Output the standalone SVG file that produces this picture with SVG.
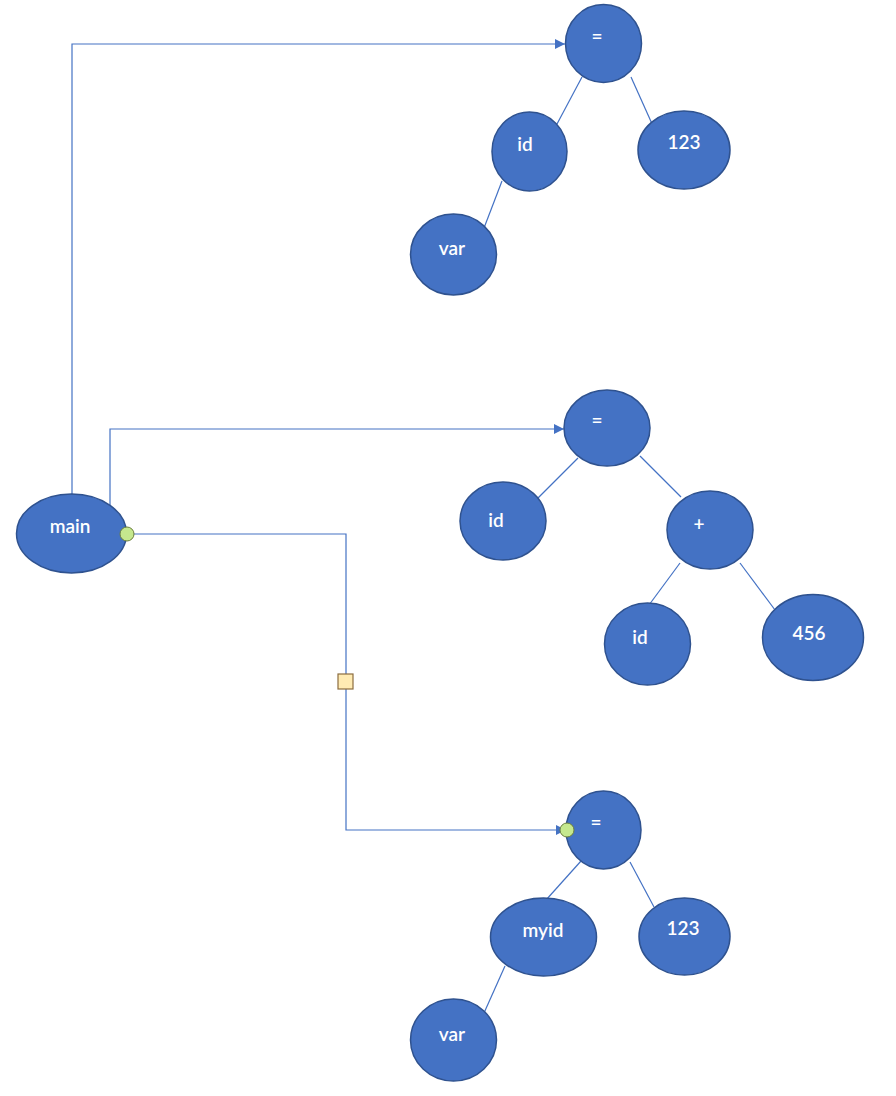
<svg xmlns="http://www.w3.org/2000/svg" width="896" height="1096" viewBox="0 0 896 1096">
<style>
.n ellipse{fill:#4472C4;stroke:#2F528F;stroke-width:1.5}
.n text{fill:#fff;font-family:Lato,"Open Sans","Liberation Sans",sans-serif;font-size:19px;font-weight:600;text-anchor:middle}
.c{fill:none;stroke:#4472C4;stroke-width:1.2}
</style>
<defs>
<marker id="arr" viewBox="0 0 10 10" refX="10" refY="5" markerWidth="10" markerHeight="10" markerUnits="userSpaceOnUse" orient="auto">
<path d="M0,0 L10,5 L0,10 z" fill="#4472C4"/>
</marker>
</defs>
<g id="connectors">
<polyline class="c" points="72,494 72,44 565,44" marker-end="url(#arr)"/>
<polyline class="c" points="110,506 110,429 564,429" marker-end="url(#arr)"/>
<polyline class="c" points="127,534 346,534 346,830 566,830" marker-end="url(#arr)"/>
<line class="c" x1="582" y1="77" x2="557" y2="124"/>
<line class="c" x1="631" y1="77" x2="653" y2="126"/>
<line class="c" x1="502" y1="181" x2="484" y2="228"/>
<line class="c" x1="578" y1="458" x2="534" y2="502"/>
<line class="c" x1="640" y1="456" x2="681" y2="497"/>
<line class="c" x1="680" y1="563" x2="649" y2="605"/>
<line class="c" x1="740" y1="563" x2="778" y2="614"/>
<line class="c" x1="581" y1="861" x2="546" y2="900"/>
<line class="c" x1="630" y1="862" x2="654" y2="907"/>
<line class="c" x1="505" y1="966" x2="484" y2="1013"/>
</g>
<g id="n_main" class="n"><ellipse cx="71.5" cy="533.5" rx="55" ry="39.5"/><text x="70" y="533">main</text></g>
<g id="n_eq1" class="n"><ellipse cx="603.5" cy="43.5" rx="38" ry="39"/><text x="597" y="43">=</text></g>
<g id="n_id1" class="n"><ellipse cx="529.5" cy="151.5" rx="37.5" ry="39.5"/><text x="525" y="151">id</text></g>
<g id="n_123a" class="n"><ellipse cx="684" cy="150" rx="46" ry="39"/><text x="684" y="149">123</text></g>
<g id="n_var1" class="n"><ellipse cx="453.5" cy="254.5" rx="43" ry="40.5"/><text x="452" y="255">var</text></g>
<g id="n_eq2" class="n"><ellipse cx="607" cy="428" rx="43" ry="38"/><text x="597" y="427">=</text></g>
<g id="n_id2" class="n"><ellipse cx="503" cy="521" rx="43" ry="39"/><text x="496" y="527">id</text></g>
<g id="n_plus" class="n"><ellipse cx="710" cy="530" rx="43" ry="39"/><text x="699" y="531">+</text></g>
<g id="n_id3" class="n"><ellipse cx="647.5" cy="644" rx="43" ry="41"/><text x="640" y="644">id</text></g>
<g id="n_456" class="n"><ellipse cx="813" cy="637.5" rx="50.5" ry="43"/><text x="809" y="640">456</text></g>
<g id="n_eq3" class="n"><ellipse cx="603.5" cy="830" rx="37.5" ry="39"/><text x="596" y="829">=</text></g>
<g id="n_myid" class="n"><ellipse cx="543.5" cy="937" rx="53" ry="39"/><text x="543" y="937">myid</text></g>
<g id="n_123b" class="n"><ellipse cx="684.5" cy="936.5" rx="45.5" ry="38.5"/><text x="683" y="935">123</text></g>
<g id="n_var2" class="n"><ellipse cx="453.5" cy="1040" rx="43" ry="41"/><text x="452" y="1041">var</text></g>
<g id="handles">
<circle cx="127" cy="534" r="7" fill="#C5E88E" stroke="#6B7F3E" stroke-width="1"/>
<circle cx="567" cy="830" r="7" fill="#C5E88E" stroke="#6B7F3E" stroke-width="1"/>
<rect x="338" y="674" width="15" height="15" fill="#FFEBB3" stroke="#8C6D3F" stroke-width="1.2"/>
</g>
</svg>
